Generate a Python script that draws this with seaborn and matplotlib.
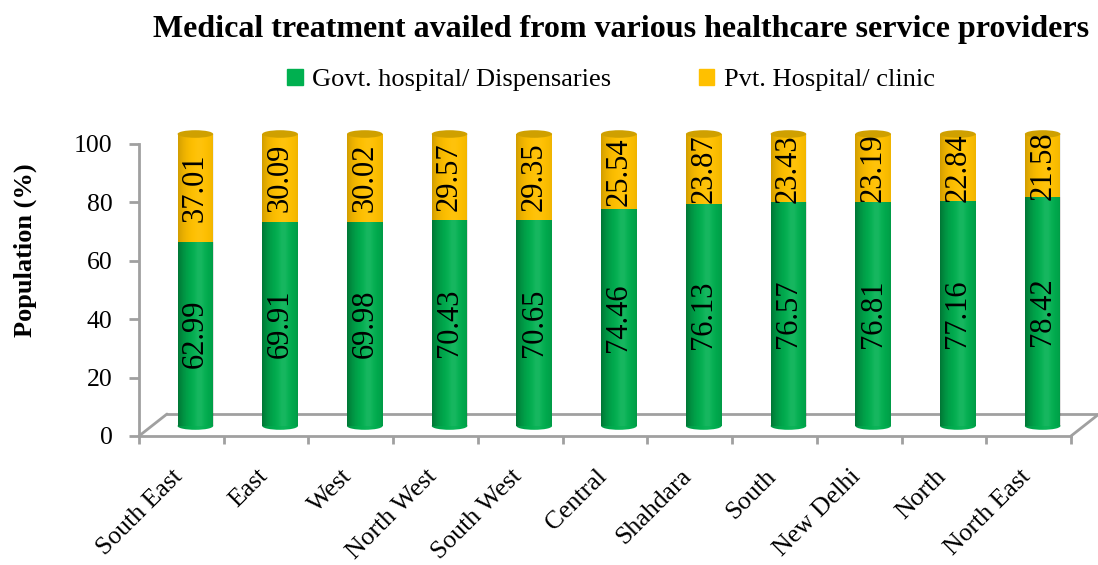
import matplotlib
matplotlib.use("Agg")
import matplotlib.pyplot as plt
import matplotlib.transforms as mtransforms
from matplotlib.patches import Ellipse, Patch
import numpy as np
import pandas as pd
import seaborn as sns

regions = ["South East", "East", "West", "North West", "South West", "Central",
           "Shahdara", "South", "New Delhi", "North", "North East"]
govt = [62.99, 69.91, 69.98, 70.43, 70.65, 74.46, 76.13, 76.57, 76.81, 77.16, 78.42]
pvt = [37.01, 30.09, 30.02, 29.57, 29.35, 25.54, 23.87, 23.43, 23.19, 22.84, 21.58]
series_names = ["Govt. hospital/ Dispensaries", "Pvt. Hospital/ clinic"]
yticks = [0, 20, 40, 60, 80, 100]

GREEN = "#00B050"
YELLOW = "#FFC000"
CAP = "#CFA000"
GRID = "#A0A0A0"

df = pd.DataFrame({"region": regions, "govt": govt, "pvt": pvt})
df["total"] = df["govt"] + df["pvt"]

sns.set_theme(style="white")
plt.rcParams["font.family"] = ["Liberation Serif", "DejaVu Serif"]
plt.rcParams["text.color"] = "black"
plt.rcParams["xtick.labelcolor"] = "black"
plt.rcParams["ytick.labelcolor"] = "black"

W, H = 1098, 565
fig = plt.figure(figsize=(W / 100, H / 100), dpi=100)
ax = fig.add_axes([139 / W, (H - 436) / H, 932 / W, 292 / H])

bar_w = 0.42
sns.barplot(data=df, x="region", y="total", color=YELLOW, saturation=1,
            width=bar_w, ax=ax, zorder=3)
sns.barplot(data=df, x="region", y="govt", color=GREEN, saturation=1,
            width=bar_w, ax=ax, zorder=3)

# bars sit half way into the 3-D floor
shift = ax.transData + mtransforms.ScaledTranslation(0.14, 0.10, fig.dpi_scale_trans)
back = ax.transData + mtransforms.ScaledTranslation(0.28, 0.22, fig.dpi_scale_trans)
for p in list(ax.patches):
    p.set_transform(shift)
    p.set_linewidth(0)
    p.set_clip_on(False)

ell_h = 2.6
shapes = list(ax.patches)
for i in range(len(regions)):
    e0 = Ellipse((i, 0), bar_w, ell_h, color=GREEN, transform=shift,
                 zorder=2.9, clip_on=False, lw=0)
    e1 = Ellipse((i, df["total"][i]), bar_w, ell_h, color=CAP, transform=shift,
                 zorder=3.1, clip_on=False, lw=0)
    ax.add_patch(e0)
    ax.add_patch(e1)
    shapes += [e0, e1]
    ax.text(i, govt[i] / 2, f"{govt[i]:.2f}", rotation=90, ha="center", va="center",
            fontsize=22, transform=shift, zorder=4)
    ax.text(i, govt[i] + pvt[i] / 2, f"{pvt[i]:.2f}", rotation=90, ha="center",
            va="center", fontsize=22, transform=shift, zorder=4)

# cylinder shading: slightly darker edges, faint light band right of centre
u = np.linspace(0, 1, 64)
shade = np.zeros((1, 64, 4))
dark = np.clip(np.abs(u - 0.6) / 0.6, 0, 1) ** 2.5 * 0.18
light = np.exp(-((u - 0.6) / 0.15) ** 2) * 0.05
shade[0, :, 3] = dark + light
shade[0, :, :3] = (light / (dark + light + 1e-9))[:, None]
for s in shapes:
    bb = s.get_path().get_extents(s.get_patch_transform())
    im = ax.imshow(shade, extent=(bb.x0, bb.x1, bb.y0, bb.y1), aspect="auto",
                   transform=shift, zorder=s.get_zorder() + 0.01,
                   interpolation="bilinear", clip_on=True)
    im.set_clip_path(s)

ax.set_xlim(-0.5, len(regions) - 0.5)
ax.set_ylim(0, 100)

# floor of the 3-D plot
x0, x1 = -0.5, len(regions) - 0.5
ax.plot([x0, x1], [0, 0], color=GRID, lw=2, transform=back, clip_on=False, zorder=1)
for xe in (x0, x1):
    ax.annotate("", xy=(xe, 0), xycoords=back, xytext=(xe, 0), textcoords="data",
                arrowprops=dict(arrowstyle="-", color=GRID, lw=2, shrinkA=0, shrinkB=0))

for s in ["top", "right"]:
    ax.spines[s].set_visible(False)
for s in ["left", "bottom"]:
    ax.spines[s].set_color(GRID)
    ax.spines[s].set_linewidth(2)

ax.set_yticks(yticks)
ax.tick_params(axis="y", length=7, width=2, color=GRID, labelsize=18.5, pad=12, left=True)
ax.set_xticks(np.arange(len(regions) + 1) - 0.5, minor=True)
ax.tick_params(axis="x", which="minor", length=6, width=2, color=GRID, bottom=True)
ax.tick_params(axis="x", which="major", length=0, pad=21)
ax.set_xticks(range(len(regions)))
ax.set_xticklabels(regions, rotation=45, ha="right", fontsize=18.5)
lab_shift = mtransforms.ScaledTranslation(0.06, 0, fig.dpi_scale_trans)
for lab in ax.get_xticklabels():
    lab.set_transform(lab.get_transform() + lab_shift)
ax.set_xlabel("")
ax.set_ylabel("")
ax.set_facecolor("none")

fig.text(25 / W, 1 - 250 / H, "Population (%)", rotation=90, ha="center", va="center",
         fontsize=19, fontweight="bold")
fig.text(621 / W, 1 - 30 / H, "Medical treatment availed from various healthcare service providers",
         ha="center", va="center", fontsize=23, fontweight="bold")

handles = [Patch(color=GREEN), Patch(color=YELLOW)]
fig.legend(handles, series_names, loc="center", bbox_to_anchor=(611 / W, 1 - 80 / H),
           ncol=2, frameon=False, fontsize=19, handlelength=0.6, handleheight=0.6,
           handletextpad=0.35, columnspacing=3.3)

fig.savefig("out.png", dpi=100)
